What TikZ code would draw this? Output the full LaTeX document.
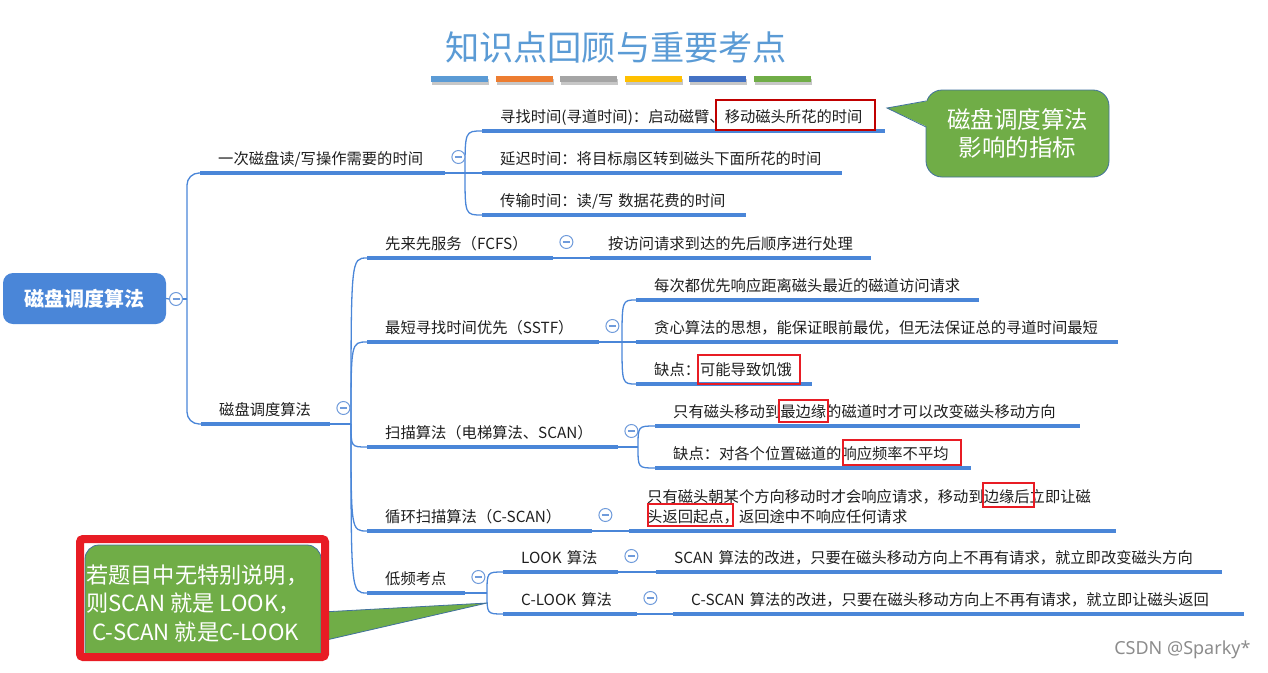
\documentclass[tikz,border=0pt]{standalone}
\usepackage{fontspec}
\newfontfamily\cjk{Noto Sans CJK SC}
\newfontfamily\wmfont{Noto Sans}
\usetikzlibrary{calc}

\definecolor{linkblue}{HTML}{4A86D8}
\definecolor{foldblue}{HTML}{6F9BDB}
\definecolor{rootblue}{HTML}{4A86D8}
\definecolor{titleblue}{HTML}{5B9BD5}
\definecolor{textdark}{HTML}{1E1E1E}
\definecolor{notegreen}{HTML}{70AD47}
\definecolor{noteborder}{HTML}{41719C}
\definecolor{hlred}{HTML}{E81C24}
\definecolor{darkred}{HTML}{C00000}
\definecolor{barA}{HTML}{5B9BD5}
\definecolor{barB}{HTML}{ED7D31}
\definecolor{barC}{HTML}{A5A5A5}
\definecolor{barD}{HTML}{FFC000}
\definecolor{barE}{HTML}{4472C4}
\definecolor{barF}{HTML}{70AD47}

\tikzset{
  topic/.style={anchor=south west, inner xsep=18pt, inner ysep=5pt,
    text height=11pt, text depth=3pt, align=left, text=textdark,
    font=\cjk\fontsize{15.3}{20}\selectfont},
  uline/.style={draw=linkblue, line width=4pt},
  link/.style={draw=linkblue, line width=1.3pt},
  fold/.style={circle, draw=foldblue, fill=white, line width=1pt,
    minimum size=13pt, inner sep=0pt,
    path picture={\draw[foldblue, line width=1.3pt]
      ([xshift=-3.5pt]path picture bounding box.center) --
      ([xshift=3.5pt]path picture bounding box.center);}},
  hl/.style={draw=hlred, line width=2.8pt},
  rootbox/.style={rounded corners=10pt, fill=rootblue, text=white,
    minimum width=163pt, minimum height=51pt,
    font=\cjk\bfseries\fontsize{20}{24}\selectfont},
  notebox/.style={rounded corners=16pt, fill=notegreen, draw=noteborder,
    line width=0.8pt, text=white, align=center,
    minimum width=183pt, minimum height=87pt,
    font=\cjk\fontsize{23.5}{28}\selectfont},
}

\begin{document}
\begin{tikzpicture}[x=1pt, y=-1pt]
  \useasboundingbox (0,0) rectangle (1268,672);

  % title and colour bars
  \node[font=\cjk\fontsize{34.2}{40}\selectfont, text=titleblue] (title) at (616,48) {知识点回顾与重要考点};
  \foreach \c [count=\i from 0] in {barA,barB,barC,barD,barE,barF} {
    \fill[black!22] (432+64.6*\i,79) rectangle ++(57,6);
    \fill[\c] (431+64.6*\i,76) rectangle ++(57,6);
  }

  % root
  \node[rootbox] (root) at (84.5,298.5) {磁盘调度算法};
  \node[fold] (rootfold) at (176,299) {};

  % first level
  \node[topic, text width=209pt] (b1) at (200,173) {一次磁盘读/写操作需要的时间};
  \node[topic, text width=93pt] (b2) at (201,424) {磁盘调度算法};

  % times
  \node[topic, text width=367pt] (c11) at (482,131) {寻找时间(寻道时间)：启动磁臂、移动磁头所花的时间};
  \node[topic, text width=324pt] (c12) at (482,173) {延迟时间：将目标扇区转到磁头下面所花的时间};
  \node[topic, text width=228pt] (c13) at (482,215) {传输时间：读/写~数据花费的时间};

  % algorithms
  \node[topic, text width=150pt] (fcfs) at (367,258) {先来先服务（FCFS）};
  \node[topic, text width=245pt] (fcfsd) at (590,258) {按访问请求到达的先后顺序进行处理};
  \node[topic, text width=196pt] (sstf) at (367,342) {最短寻找时间优先（SSTF）};
  \node[topic, text width=307pt] (s1) at (636,300) {每次都优先响应距离磁头最近的磁道访问请求};
  \node[topic, text width=446pt] (s2) at (636,342) {贪心算法的思想，能保证眼前最优，但无法保证总的寻道时间最短};
  \node[topic, text width=140pt] (s3) at (636,384) {缺点：可能导致饥饿};
  \node[topic, text width=215pt] (scan) at (367,447) {扫描算法（电梯算法、SCAN）};
  \node[topic, text width=389pt] (sc1) at (655,426) {只有磁头移动到最边缘的磁道时才可以改变磁头移动方向};
  \node[topic, text width=280pt] (sc2) at (655,468) {缺点：对各个位置磁道的响应频率不平均};
  \node[topic, text width=189pt] (cscan) at (367,531) {循环扫描算法（C-SCAN）};
  \node[topic, text width=451pt, text depth=23pt] (cscand) at (629,531) {只有磁头朝某个方向移动时才会响应请求，移动到边缘后立即让磁\\头返回起点，返回途中不响应任何请求};
  \node[topic, text width=62pt] (low) at (367,593) {低频考点};
  \node[topic, text width=79pt] (look) at (503,572) {LOOK~算法};
  \node[topic, text width=98pt] (clook) at (503,614) {C-LOOK~算法};
  \node[topic, text width=530pt] (lookd) at (656,572) {SCAN~算法的改进，只要在磁头移动方向上不再有请求，就立即改变磁头方向};
  \node[topic, text width=535pt] (clookd) at (673,614) {C-SCAN~算法的改进，只要在磁头移动方向上不再有请求，就立即让磁头返回};

  % underlines
  \foreach \n in {b1,b2,c11,c12,c13,fcfs,fcfsd,sstf,s1,s2,s3,scan,sc1,sc2,cscan,cscand,low,look,clook,lookd,clookd}
    \draw[uline] (\n.south west) -- (\n.south east);

  % connectors
  \coordinate (rootj) at (187,299);
  \draw[link] (root.east) -- (rootfold.west);
  \draw[link] (rootfold.east) -- (rootj);
  \draw[link, rounded corners=12pt] (rootj) |- (b1.south west);
  \draw[link, rounded corners=12pt] (rootj) |- (b2.south west);

  \coordinate (b1j) at (465,173);
  \draw[link] (b1.south east) -- (b1j);
  \foreach \c in {c11,c12,c13}
    \draw[link] (b1j) .. controls (b1j |- \c.south west) .. (\c.south west);

  \coordinate (b2j) at (351,424);
  \draw[link] (b2.south east) -- (b2j);
  \foreach \c in {fcfs,sstf,scan,cscan,low}
    \draw[link] (b2j) .. controls (b2j |- \c.south west) .. (\c.south west);

  \draw[link] (fcfs.south east) -- (fcfsd.south west);

  \coordinate (sstfj) at (622,342);
  \draw[link] (sstf.south east) -- (sstfj);
  \foreach \c in {s1,s2,s3}
    \draw[link] (sstfj) .. controls (sstfj |- \c.south west) .. (\c.south west);

  \coordinate (scanj) at (638,447);
  \draw[link] (scan.south east) -- (scanj);
  \foreach \c in {sc1,sc2}
    \draw[link] (scanj) .. controls (scanj |- \c.south west) .. (\c.south west);

  \draw[link] (cscan.south east) -- (cscand.south west);

  \coordinate (lowj) at (487,593);
  \draw[link] (low.south east) -- (lowj);
  \foreach \c in {look,clook}
    \draw[link] (lowj) .. controls (lowj |- \c.south west) .. (\c.south west);

  \draw[link] (look.south east) -- (lookd.south west);
  \draw[link] (clook.south east) -- (clookd.south west);

  % fold buttons
  \foreach \n in {b1,b2,fcfs,sstf,scan,cscan,low,look,clook}
    \node[fold] (\n-fold) at ([shift={(13,-16)}]\n.south east) {};

  % red marks
  \draw[hl, draw=darkred, line width=1.8pt] (716,100) rectangle (875,130);
  \draw[hl] (698,355) rectangle (800,384);
  \draw[hl] (779,400) rectangle (828,422);
  \draw[hl] (843,440) rectangle (961,465);
  \draw[hl] (983,483) rectangle (1034,507);
  \draw[hl] (648,504) rectangle (733,526);

  % callout top right
  \node[notebox] (note1) at (1017.5,133.5) {磁盘调度算法\\影响的指标};
  \coordinate (note1tip) at (887,108);
  \fill[notegreen] ([shift={(2,-32.5)}]note1.west) -- (note1tip) -- ([shift={(2,-6.5)}]note1.west) -- cycle;
  \draw[noteborder, line width=0.8pt] ([shift={(0.4,-32.5)}]note1.west) -- (note1tip) -- ([shift={(0.4,-6.5)}]note1.west);

  % callout bottom left
  \coordinate (note2tip) at (487,603);
  \filldraw[fill=notegreen, draw=noteborder, line width=0.8pt] (322,612) -- (note2tip) -- (322,641) -- cycle;
  \filldraw[fill=notegreen, draw=noteborder, line width=0.8pt]
    (85,654) [rounded corners=14pt] -- (85,545) -- (321,545) [sharp corners] -- (321,654) -- cycle;
  \draw[hlred, line width=8pt, rounded corners=3pt] (80,539) rectangle (325,657);
  \node[anchor=west, align=left, inner sep=1pt, text=white,
    font=\cjk\fontsize{22.2}{28.5}\selectfont] (note2) at (85,603.5)
    {若题目中无特别说明，\\则SCAN 就是 LOOK，\\\hspace*{6pt}C-SCAN 就是C-LOOK};

  % watermark
  \node[anchor=east, text=black!45, font=\wmfont\fontsize{18}{20}\selectfont] (mark) at (1254,650) {CSDN @Sparky*};
\end{tikzpicture}
\end{document}
